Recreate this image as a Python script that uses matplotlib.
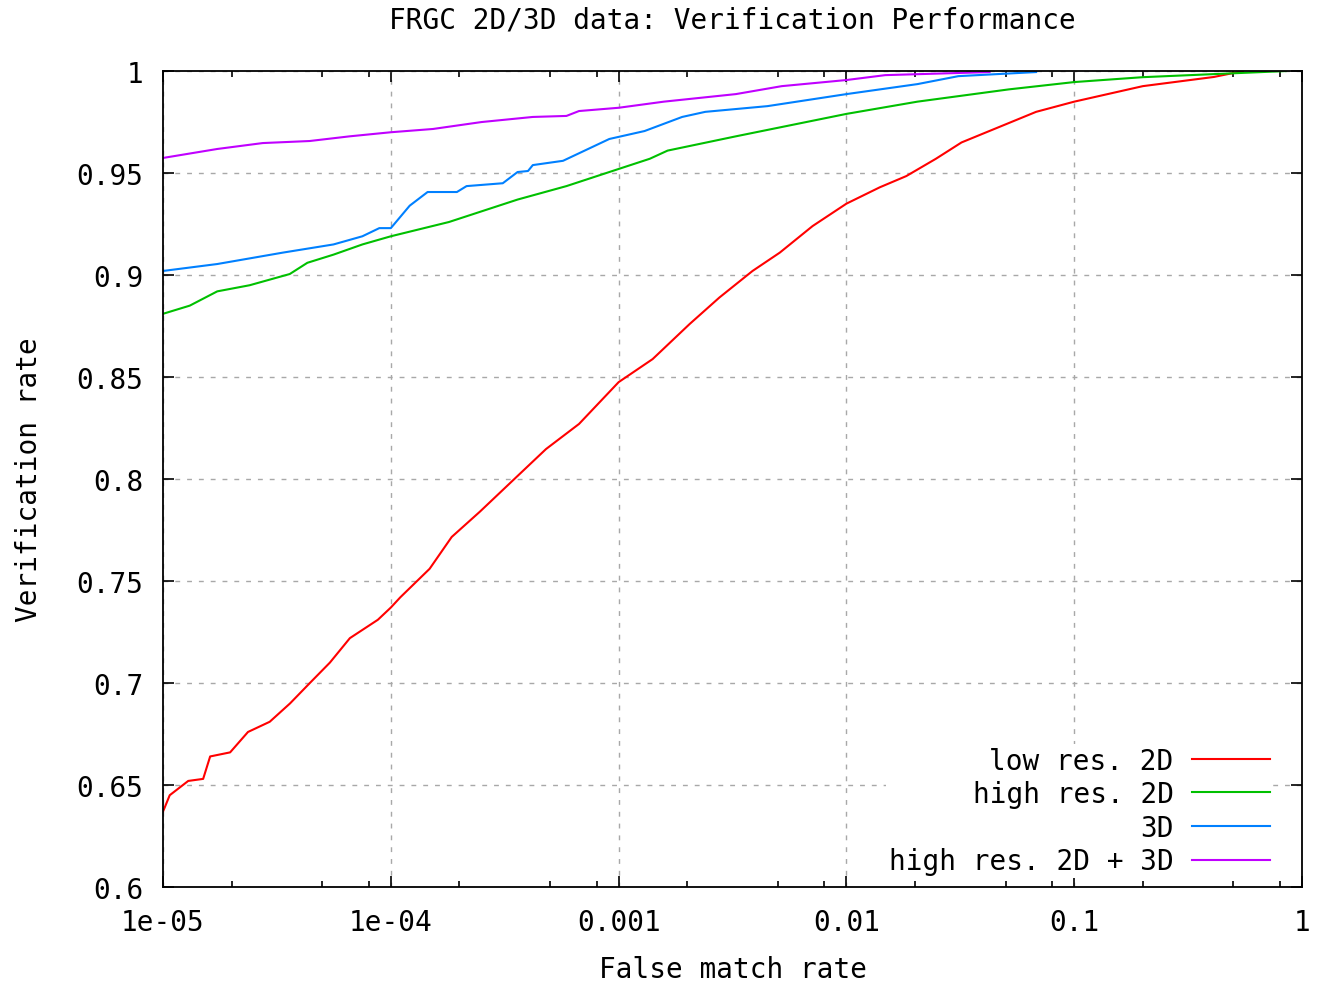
import matplotlib
matplotlib.use('Agg')
import matplotlib.pyplot as plt
from matplotlib.ticker import FixedLocator, NullFormatter

font_size = 20
plt.rcParams['font.family'] = ['DejaVu Sans Mono']

# low res. 2D
red_x = [1e-5, 1.07e-5, 1.29e-5, 1.5e-5, 1.61e-5, 1.97e-5, 2.36e-5, 2.94e-5, 3.61e-5,
         4.41e-5, 5.4e-5, 6.61e-5, 8.77e-5, 1e-4, 1.1e-4, 1.48e-4, 1.85e-4, 2.46e-4,
         3.6e-4, 4.8e-4, 6.7e-4, 1e-3, 1.41e-3, 2.05e-3, 2.77e-3, 3.87e-3, 5.1e-3,
         7.1e-3, 1e-2, 1.4e-2, 1.83e-2, 2.47e-2, 3.2e-2, 6.8e-2, 0.1, 0.2, 0.41, 0.55]
red_y = [0.637, 0.645, 0.652, 0.653, 0.664, 0.666, 0.676, 0.681, 0.690,
         0.700, 0.710, 0.722, 0.731, 0.737, 0.742, 0.756, 0.7716, 0.784,
         0.8015, 0.8147, 0.827, 0.8475, 0.8588, 0.876, 0.889, 0.902, 0.911,
         0.924, 0.935, 0.943, 0.9485, 0.957, 0.965, 0.980, 0.985, 0.9926, 0.9971, 1.0]

# high res. 2D
green_x = [1e-5, 1.31e-5, 1.73e-5, 2.4e-5, 3.6e-5, 4.3e-5, 5.6e-5, 7.5e-5, 1e-4,
           1.8e-4, 3.6e-4, 5.9e-4, 1e-3, 1.37e-3, 1.64e-3, 3.27e-3, 1e-2, 2.05e-2,
           5.15e-2, 0.1, 0.2, 0.41, 0.85]
green_y = [0.881, 0.885, 0.892, 0.895, 0.9005, 0.906, 0.910, 0.915, 0.919,
           0.926, 0.937, 0.9436, 0.952, 0.957, 0.961, 0.968, 0.979, 0.985,
           0.991, 0.9946, 0.997, 0.9985, 1.0]

# 3D
blue_x = [1e-5, 1.73e-5, 3.36e-5, 5.6e-5, 7.5e-5, 8.9e-5, 1e-4, 1.21e-4, 1.45e-4,
          1.95e-4, 2.15e-4, 3.1e-4, 3.6e-4, 4e-4, 4.2e-4, 5.7e-4, 9.1e-4, 1.3e-3,
          1.9e-3, 2.4e-3, 4.5e-3, 1e-2, 2.05e-2, 3.1e-2, 6.8e-2]
blue_y = [0.902, 0.9054, 0.911, 0.915, 0.919, 0.923, 0.923, 0.934, 0.9407,
          0.9407, 0.9436, 0.945, 0.9505, 0.951, 0.9539, 0.956, 0.9667, 0.9706,
          0.9775, 0.980, 0.9828, 0.9887, 0.9936, 0.9975, 0.9995]

# high res. 2D + 3D
mag_x = [1e-5, 1.73e-5, 2.74e-5, 4.4e-5, 6.6e-5, 1e-4, 1.53e-4, 2.5e-4, 4.2e-4,
         5.9e-4, 6.7e-4, 1e-3, 1.58e-3, 3.27e-3, 5.2e-3, 1e-2, 1.48e-2, 4.25e-2]
mag_y = [0.9574, 0.9618, 0.9647, 0.9657, 0.968, 0.970, 0.9716, 0.975, 0.9775,
         0.978, 0.9804, 0.982, 0.985, 0.9887, 0.9926, 0.9956, 0.998, 0.9995]

x_ticks = [1e-5, 1e-4, 1e-3, 1e-2, 1e-1, 1]
x_labels = ['1e-05', '1e-04', '0.001', '0.01', '0.1', '1']
y_ticks = [0.6, 0.65, 0.7, 0.75, 0.8, 0.85, 0.9, 0.95, 1.0]
y_labels = ['0.6', '0.65', '0.7', '0.75', '0.8', '0.85', '0.9', '0.95', '1']

fig = plt.figure(figsize=(13.18, 9.87), dpi=100)
ax = fig.add_axes([0.1237, 0.1003, 0.8642, 0.8267])

ax.plot(red_x, red_y, color='#ff0000', lw=1.5, label='low res. 2D')
ax.plot(green_x, green_y, color='#00c000', lw=1.5, label='high res. 2D')
ax.plot(blue_x, blue_y, color='#0080ff', lw=1.5, label='3D')
ax.plot(mag_x, mag_y, color='#c000ff', lw=1.5, label='high res. 2D + 3D')

ax.set_xscale('log')
ax.set_xlim(1e-5, 1)
ax.set_ylim(0.6, 1.0)
ax.set_xticks(x_ticks)
ax.set_xticklabels(x_labels)
minors = [m * 10.0**e for e in range(-5, 0) for m in (2, 5, 8)]
ax.xaxis.set_minor_locator(FixedLocator(minors))
ax.xaxis.set_minor_formatter(NullFormatter())
ax.set_yticks(y_ticks)
ax.set_yticklabels(y_labels)

ax.tick_params(which='both', direction='in', top=True, right=True,
               labelsize=font_size, width=1.2)
ax.tick_params(axis='x', which='major', length=8, pad=15)
ax.tick_params(axis='y', which='major', length=8, pad=14)
ax.tick_params(which='minor', length=4)
for s in ax.spines.values():
    s.set_linewidth(1.3)

ax.grid(True, which='major', color='#a8a8a8', linestyle=(0, (3.5, 5)), lw=1)

ax.set_title('FRGC 2D/3D data: Verification Performance', fontsize=font_size, pad=31)
ax.set_xlabel('False match rate', fontsize=font_size, labelpad=14)
ax.set_ylabel('Verification rate', fontsize=font_size, labelpad=24)

# legend: text right-aligned, sample line on the right, white box over the grid
leg = ax.legend(loc='lower right', bbox_to_anchor=(0.9745, 0.011), fontsize=font_size,
                frameon=True, framealpha=1, facecolor='white', edgecolor='none',
                fancybox=False, markerfirst=False, handlelength=2.8,
                handletextpad=0.68, labelspacing=0.2, borderpad=0.1,
                borderaxespad=0.0)
for col in leg._legend_box.get_children()[1].get_children():
    col.align = 'right'

plt.savefig('out.png', dpi=100)
